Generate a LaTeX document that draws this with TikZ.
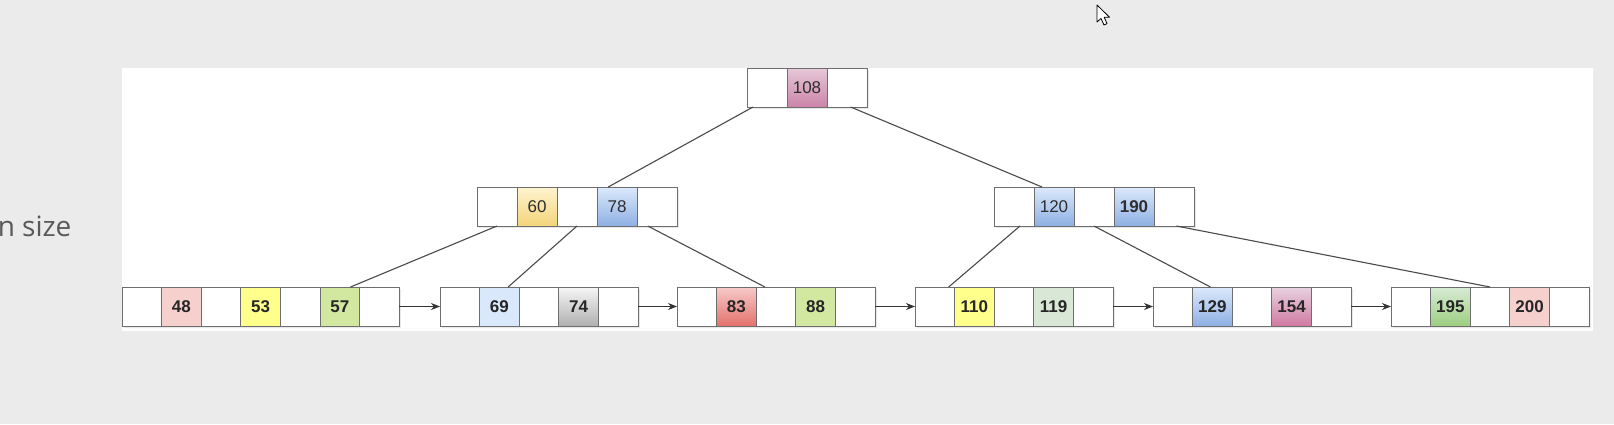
\documentclass[tikz,border=0pt]{standalone}
\usepackage{fontspec}
\setmainfont{Liberation Sans}
\newfontfamily\labelfont{Open Sans}
\usetikzlibrary{positioning,calc,shadows,arrows.meta}
\definecolor{bgc}{HTML}{EBEBEC}
\definecolor{bordc}{HTML}{6E6E6E}
\definecolor{linkc}{HTML}{4A4A4A}
\definecolor{txtc}{HTML}{2E2E2E}
\tikzset{
  cell/.style={draw=bordc, line width=0.9pt, fill=white, minimum width=39.6pt, minimum height=39pt,
     inner sep=0pt, outer sep=0pt, text=txtc, font=\fontsize{17}{17}\selectfont,
     drop shadow={opacity=0.18, shadow xshift=2pt, shadow yshift=-2pt}},
  icell/.style={cell, minimum width=40pt},
  lcell/.style={cell, font=\fontsize{17}{17}\selectfont\bfseries, text=black!85},
  link/.style={draw=linkc, line width=1.1pt},
  arr/.style={draw=black!80, line width=1pt, -{Stealth[length=9pt,width=7pt]}},
  gpink/.style={top color=E6C8D8, bottom color=CC84A8},
  gyel/.style={top color=FFF4D0, bottom color=F3D47A},
  gblue/.style={top color=DCE9FC, bottom color=8EB0E4},
  ggray/.style={top color=F6F6F6, bottom color=B0B0B0},
  gred/.style={top color=F6CAC8, bottom color=E4716C},
  gmag/.style={top color=E8D2DF, bottom color=D07AA2},
  ggreen/.style={top color=D8EAD5, bottom color=9CCF80},
}
\definecolor{E6C8D8}{HTML}{E6C8D8}\definecolor{CC84A8}{HTML}{CC84A8}
\definecolor{FFF4D0}{HTML}{FFF4D0}\definecolor{F3D47A}{HTML}{F3D47A}
\definecolor{DCE9FC}{HTML}{DCE9FC}\definecolor{8EB0E4}{HTML}{8EB0E4}
\definecolor{F6F6F6}{HTML}{F6F6F6}\definecolor{B0B0B0}{HTML}{B0B0B0}
\definecolor{F6CAC8}{HTML}{F6CAC8}\definecolor{E4716C}{HTML}{E4716C}
\definecolor{E8D2DF}{HTML}{E8D2DF}\definecolor{D07AA2}{HTML}{D07AA2}
\definecolor{D8EAD5}{HTML}{D8EAD5}\definecolor{9CCF80}{HTML}{9CCF80}
\definecolor{fpink}{HTML}{F5D0CD}
\definecolor{fyel}{HTML}{FFFF8C}
\definecolor{fgreen}{HTML}{D2E8A0}
\definecolor{fblue}{HTML}{DAE8FC}
\definecolor{fmint}{HTML}{D9E8D6}
\begin{document}
\begin{tikzpicture}[x=1pt,y=-1pt]
\useasboundingbox (0,0) rectangle (1614,424);
\fill[bgc] (0,0) rectangle (1614,424);
\fill[white] (122,68) rectangle (1593,331);
\node[anchor=base east, font=\labelfont\fontsize{28}{28}\selectfont, text=black!65] (lbl) at (75,236) {n size};
% cursor
\filldraw[fill=white, draw=black, line width=0.8pt, line join=round]
  (1097,5) -- (1097,22) -- (1101,18.5) -- (1104,25) -- (1107,23.6) -- (1104.2,17.2) -- (1109.5,17.2) -- cycle;
% root
\node[icell, anchor=north west] (r1) at (747,68) {};
\node[icell, gpink, right=0pt of r1] (r2) {108};
\node[icell, right=0pt of r2] (r3) {};
% level 2 left
\node[icell, anchor=north west] (a1) at (477,187) {};
\node[icell, gyel, right=0pt of a1] (a2) {60};
\node[icell, right=0pt of a2] (a3) {};
\node[icell, gblue, right=0pt of a3] (a4) {78};
\node[icell, right=0pt of a4] (a5) {};
% level 2 right
\node[icell, anchor=north west] (b1) at (994,187) {};
\node[icell, gblue, right=0pt of b1] (b2) {120};
\node[icell, right=0pt of b2] (b3) {};
\node[icell, gblue, right=0pt of b3, font=\fontsize{17}{17}\selectfont\bfseries] (b4) {190};
\node[icell, right=0pt of b4] (b5) {};
% leaf 1
\node[lcell, anchor=north west] (p1) at (122,287) {};
\node[lcell, fill=fpink, right=0pt of p1] (p2) {48};
\node[lcell, right=0pt of p2] (p3) {};
\node[lcell, fill=fyel, right=0pt of p3] (p4) {53};
\node[lcell, right=0pt of p4] (p5) {};
\node[lcell, fill=fgreen, right=0pt of p5] (p6) {57};
\node[lcell, right=0pt of p6] (p7) {};
% leaf 2
\node[lcell, anchor=north west] (q1) at (440,287) {};
\node[lcell, fill=fblue, right=0pt of q1] (q2) {69};
\node[lcell, right=0pt of q2] (q3) {};
\node[lcell, ggray, right=0pt of q3] (q4) {74};
\node[lcell, right=0pt of q4] (q5) {};
% leaf 3
\node[lcell, anchor=north west] (s1) at (677,287) {};
\node[lcell, gred, right=0pt of s1] (s2) {83};
\node[lcell, right=0pt of s2] (s3) {};
\node[lcell, fill=fgreen, right=0pt of s3] (s4) {88};
\node[lcell, right=0pt of s4] (s5) {};
% leaf 4
\node[lcell, anchor=north west] (t1) at (915,287) {};
\node[lcell, fill=fyel, right=0pt of t1] (t2) {110};
\node[lcell, right=0pt of t2] (t3) {};
\node[lcell, fill=fmint, right=0pt of t3] (t4) {119};
\node[lcell, right=0pt of t4] (t5) {};
% leaf 5
\node[lcell, anchor=north west] (u1) at (1153,287) {};
\node[lcell, gblue, right=0pt of u1] (u2) {129};
\node[lcell, right=0pt of u2] (u3) {};
\node[lcell, gmag, right=0pt of u3] (u4) {154};
\node[lcell, right=0pt of u4] (u5) {};
% leaf 6
\node[lcell, anchor=north west] (v1) at (1391,287) {};
\node[lcell, ggreen, right=0pt of v1] (v2) {195};
\node[lcell, right=0pt of v2] (v3) {};
\node[lcell, fill=fpink, right=0pt of v3] (v4) {200};
\node[lcell, right=0pt of v4] (v5) {};
% tree links
\draw[link] ($(r1.south west)!0.15!(r1.south east)$) -- ($(a4.north west)!0.28!(a4.north east)$);
\draw[link] ($(r3.south west)!0.59!(r3.south east)$) -- ($(b2.north west)!0.2!(b2.north east)$);
\draw[link] (a1.south) -- ($(p6.north west)!0.77!(p6.north east)$);
\draw[link] (a3.south) -- ($(q2.north west)!0.72!(q2.north east)$);
\draw[link] ($(a5.south west)!0.27!(a5.south east)$) -- ($(s3.north west)!0.22!(s3.north east)$);
\draw[link] ($(b1.south west)!0.65!(b1.south east)$) -- ($(t1.north west)!0.85!(t1.north east)$);
\draw[link] (b3.south) -- ($(u2.north west)!0.45!(u2.north east)$);
\draw[link] ($(b5.south west)!0.56!(b5.south east)$) -- (v3.north);
% leaf chain
\draw[arr] (p7.east) -- (q1.west);
\draw[arr] (q5.east) -- (s1.west);
\draw[arr] (s5.east) -- (t1.west);
\draw[arr] (t5.east) -- (u1.west);
\draw[arr] (u5.east) -- (v1.west);
\end{tikzpicture}
\end{document}
